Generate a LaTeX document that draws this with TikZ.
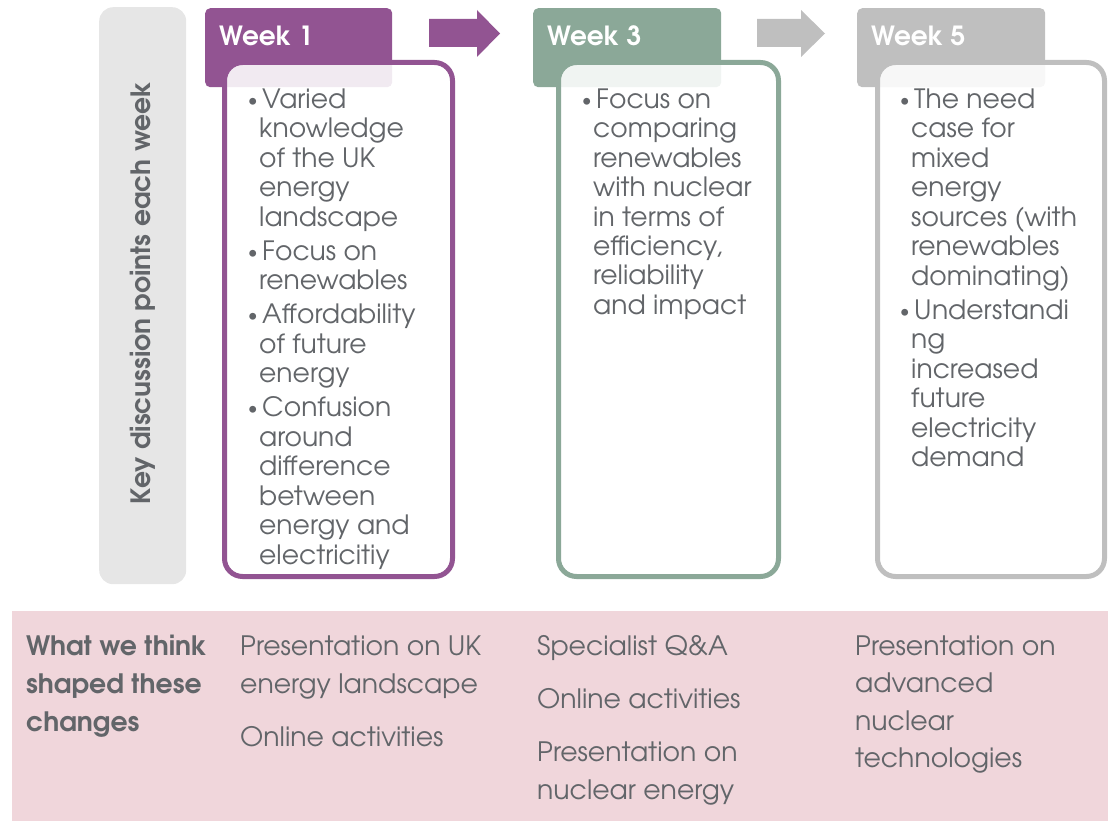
\documentclass[tikz,border=0pt]{standalone}
\usepackage{fontspec}
\setmainfont{texgyreadventor}[Extension=.otf, UprightFont=*-regular, BoldFont=*-bold, ItalicFont=*-italic, BoldItalicFont=*-bolditalic]
\usetikzlibrary{positioning}
\definecolor{weekpurple}{RGB}{146,84,146}
\definecolor{weekgreen}{RGB}{139,168,152}
\definecolor{weekgrey}{RGB}{191,191,191}
\definecolor{textgrey}{RGB}{98,101,105}
\definecolor{sidegrey}{RGB}{230,230,230}
\definecolor{bandpink}{RGB}{240,214,219}
\newcommand{\bul}{\llap{\raisebox{2pt}{\fontsize{19}{19}\selectfont\textbullet}\hspace{1.5pt}}\hspace{3pt}}

\begin{document}
\begin{tikzpicture}[x=1pt, y=-1pt,
    weekhead/.style={rectangle, rounded corners=5pt, minimum width=187pt, minimum height=79pt, inner sep=0pt, anchor=north west},
    weektitle/.style={anchor=base west, inner sep=0pt, text=white, font=\fontsize{26.4}{30}\selectfont\bfseries},
    weekbox/.style={rectangle, rounded corners=18pt, line width=5pt, fill=white, fill opacity=0.88, minimum height=514pt, inner sep=0pt, anchor=north west},
    boxtext/.style={anchor=base west, inner sep=0pt, align=left, text=textgrey, font=\fontsize{26.6}{29.5}\selectfont},
    shapetext/.style={anchor=base west, inner sep=0pt, align=left, text=textgrey, font=\fontsize{26.7}{38}\selectfont}]
    \useasboundingbox (0,0) rectangle (1112,821);

    % Side label
    \node[fill=sidegrey, rounded corners=14pt, minimum width=87pt, minimum height=577pt, inner sep=0pt, anchor=north west] (side) at (99,7) {};
    \node[rotate=90, text=textgrey, font=\fontsize{26.6}{30}\selectfont\bfseries] (sidetext) at (143,293) {Key discussion points each week};

    % Week headers
    \node[weekhead, fill=weekpurple] (h1) at (205,8) {};
    \node[weekhead, fill=weekgreen, minimum width=188pt] (h3) at (533,8) {};
    \node[weekhead, fill=weekgrey, minimum width=188pt] (h5) at (857,8) {};
    \node[weektitle] (t1) at (219,46) {Week 1};
    \node[weektitle] (t3) at (547,46) {Week 3};
    \node[weektitle] (t5) at (871,46) {Week 5};

    % Arrows
    \fill[weekpurple] (429,19) -- (477,19) -- (477,10) -- (500,33.5) -- (477,57) -- (477,47) -- (429,47) -- cycle;
    \fill[weekgrey] (757,19) -- (801,19) -- (801,10) -- (825,33.5) -- (801,57) -- (801,47) -- (757,47) -- cycle;

    % Week boxes
    \node[weekbox, draw=weekpurple, minimum width=228pt] (b1) at (222,60) {};
    \node[weekbox, draw=weekgreen, minimum width=220pt] (b3) at (556,60) {};
    \node[weekbox, draw=weekgrey, minimum width=227pt] (b5) at (875,60) {};

    % Discussion points (placed by the baseline of their last line)
    \node[boxtext] (k1) at (259,564) {\bul Varied\\knowledge\\of the UK\\energy\\landscape\\[4.5pt]\bul Focus on\\renewables\\[4.5pt]\bul Affordability\\of future\\energy\\[4.5pt]\bul Confusion\\around\\difference\\between\\energy and\\electricitiy};
    \node[boxtext] (k3) at (593,314.5) {\bul Focus on\\comparing\\renewables\\with nuclear\\in terms of\\efficiency,\\reliability\\and impact};
    \node[boxtext] (k5) at (911,466.5) {\bul The need\\case for\\mixed\\energy\\sources (with\\renewables\\dominating)\\[4.5pt]\bul Understandi\\ng\\increased\\future\\electricity\\demand};

    % What shaped the changes
    \node[fill=bandpink, minimum width=1096pt, minimum height=210pt, inner sep=0pt, anchor=north west] (band) at (12,611) {};
    \node[shapetext, font=\fontsize{26.7}{38}\selectfont\bfseries] (why) at (26,731) {What we think\\shaped these\\changes};
    \node[shapetext] (s1) at (240,746) {Presentation on UK\\energy landscape\\[15pt]Online activities};
    \node[shapetext] (s3) at (537,799) {Specialist Q\&A\\[15pt]Online activities\\[15pt]Presentation on\\nuclear energy};
    \node[shapetext, font=\fontsize{26.7}{37.5}\selectfont] (s5) at (855,767.5) {Presentation on\\advanced\\nuclear\\technologies};
\end{tikzpicture}
\end{document}
